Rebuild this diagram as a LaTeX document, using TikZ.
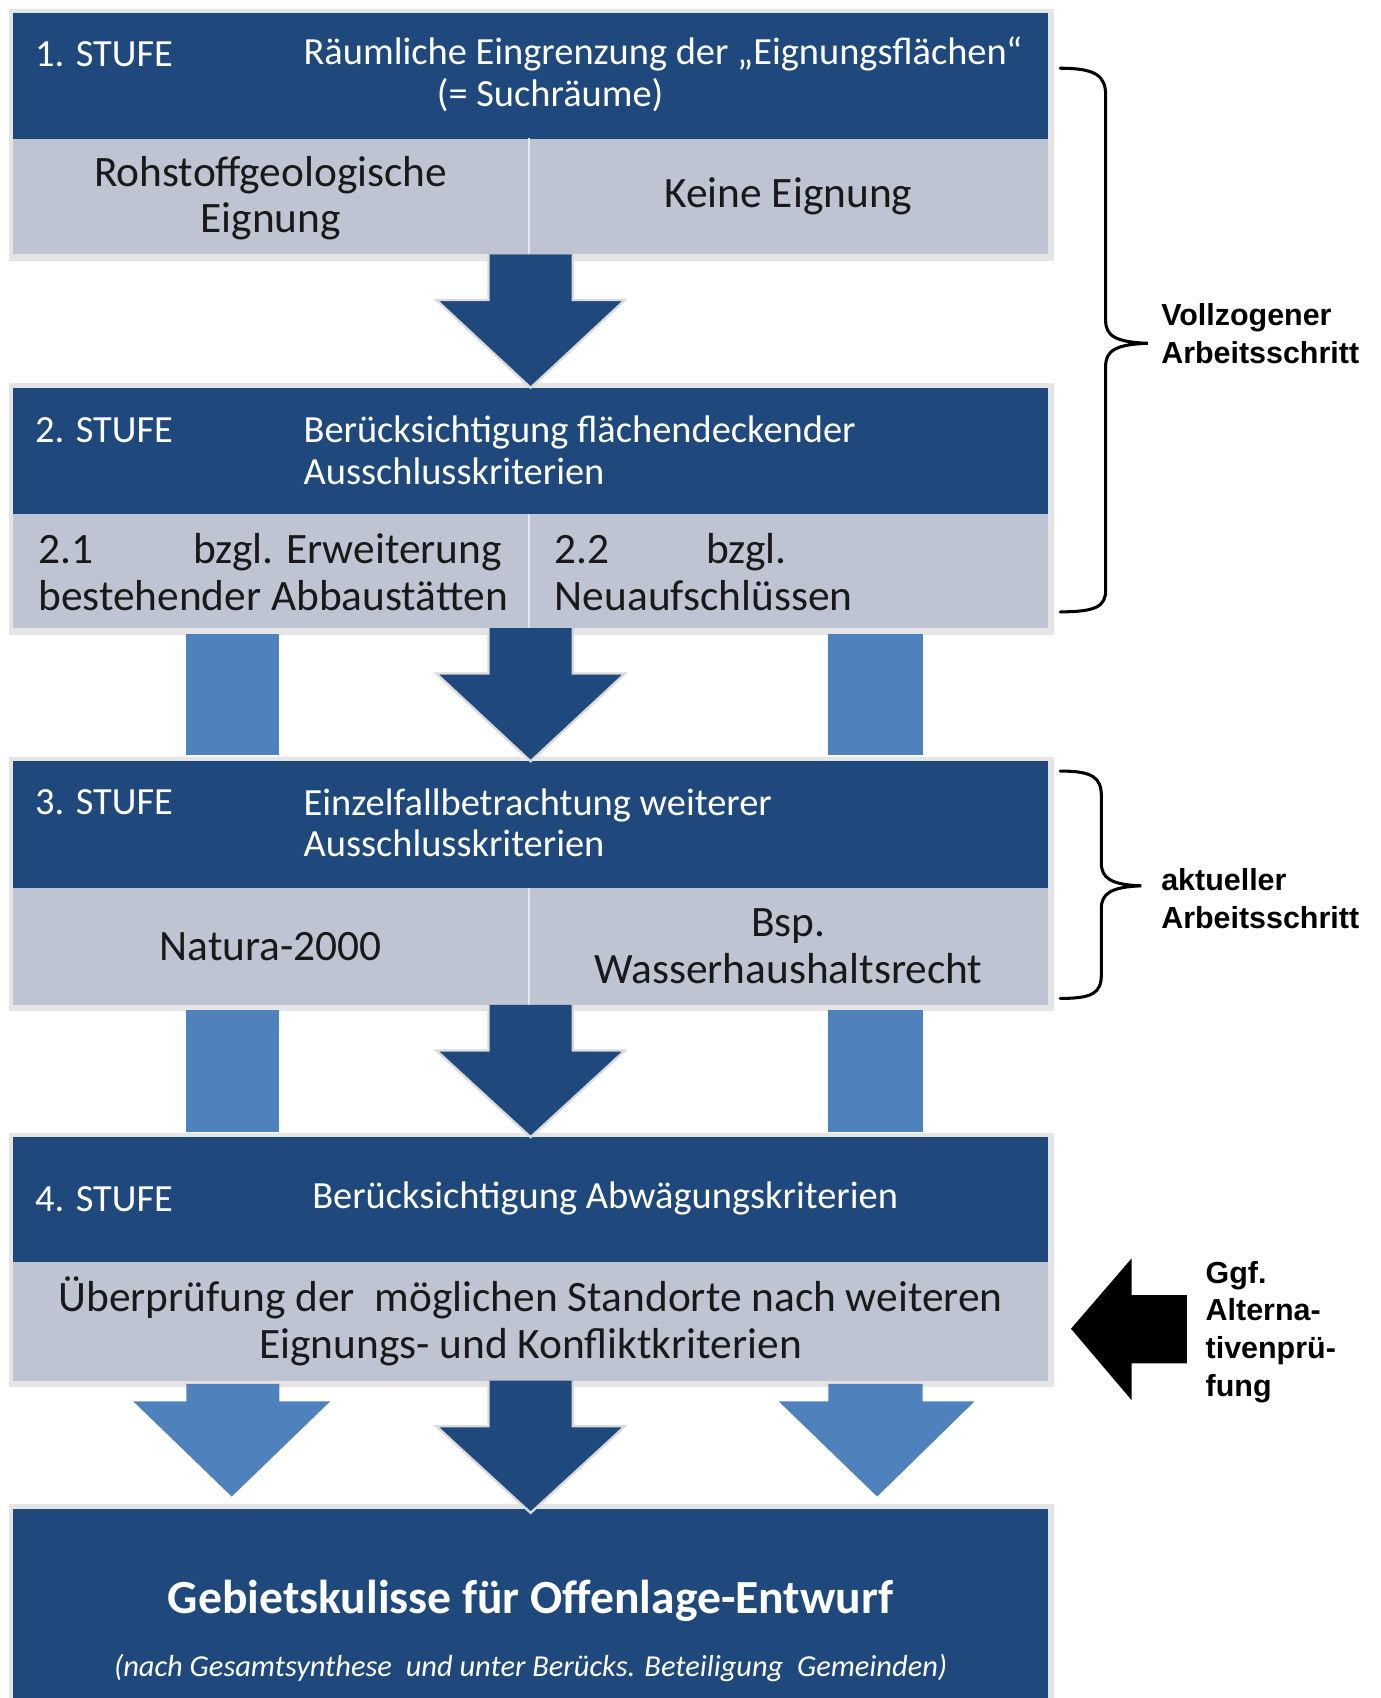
\documentclass[tikz,border=0pt]{standalone}
\usepackage{fontspec}
\setmainfont{Carlito}
\newfontfamily\sidefont{Liberation Sans}
\usetikzlibrary{fit}
\definecolor{stufeblue}{RGB}{31,73,125}
\definecolor{cellgrey}{RGB}{190,196,210}
\definecolor{lightblue}{RGB}{79,129,189}
\begin{document}
\begin{tikzpicture}[x=0.02cm, y=-0.02cm,
    head/.style={fill=stufeblue, inner sep=0pt},
    cell/.style={fill=cellgrey, inner sep=0pt},
    glow/.style={fill=black!10},
    headtext/.style={text=white, inner sep=0pt, font=\fontsize{20.2}{21.8}\selectfont},
    celltext/.style={text=black!90, inner sep=0pt, align=center, font=\fontsize{22.8}{24.6}\selectfont},
    sidetext/.style={anchor=west, inner sep=0pt, align=left, font=\sidefont\bfseries\fontsize{16}{19.9}\selectfont},
    darkarrow/.style={fill=stufeblue, draw=white!85!black, line width=1.2pt},
    lightarrow/.style={fill=lightblue},
    bracket/.style={line width=1.6pt, line cap=round}]
  \useasboundingbox (0,0) rectangle (1275,1568);
  % boxes of the first three stages
  \foreach \n/\t/\m/\b in {1/12/128/235, 2/358/475/580, 3/703/820/928} {
    \fill[glow] (8,\t-4) rectangle (973,\b+6);
    \node[head, fit={(12,\t) (968,\m)}] (h\n) {};
    \node[cell, fit={(12,\m) (488,\b)}] (l\n) {};
    \node[cell, fit={(488,\m) (968,\b)}] (r\n) {};
    \draw[white!60!cellgrey, line width=0.8pt] (l\n.north east) -- (l\n.south east);
  }
  \fill[glow] (8,1046) rectangle (973,1281);
  \node[head, fit={(12,1050) (968,1165)}] (h4) {};
  \node[cell, fit={(12,1165) (968,1275)}] (g4) {};
  \fill[glow] (8,1389) rectangle (973,1568);
  \node[head, fit={(12,1393) (968,1568)}] (fin) {};

  % header texts
  \node[headtext, anchor=west] (n1) at (32,50) {1. STUFE};
  \node[headtext, anchor=west] (t1) at (280,50) {Räumliche Eingrenzung der „Eignungsflächen“};
  \node[headtext] (t1b) at (508,88) {(= Suchräume)};
  \node[headtext, anchor=west] (n2) at (32,397) {2. STUFE};
  \node[headtext, anchor=west, align=left] (t2) at (280,416) {Berücksichtigung flächendeckender\\Ausschlusskriterien};
  \node[headtext, anchor=west] (n3) at (32,741) {3. STUFE};
  \node[headtext, anchor=west, align=left] (t3) at (280,760) {Einzelfallbetrachtung weiterer\\Ausschlusskriterien};
  \node[headtext, anchor=west] (n4) at (32,1107) {4. STUFE};
  \node[headtext, anchor=west] (t4) at (288,1107) {Berücksichtigung Abwägungskriterien};

  % cell texts
  \node[celltext] (c1l) at (250,183) {Rohstoffgeologische\\Eignung};
  \node[celltext] (c1r) at (r1) {Keine Eignung};
  \node[celltext, anchor=west, align=left] (c2l) at (35,528) {\makebox[2.86cm][l]{2.1}bzgl. Erweiterung\\bestehender Abbaustätten};
  \node[celltext, anchor=west, align=left] (c2r) at (512,528) {\makebox[2.8cm][l]{2.2}bzgl.\\Neuaufschlüssen};
  \node[celltext] (c3l) at (l3) {Natura-2000};
  \node[celltext] (c3r) at (r3) {Bsp.\\Wasserhaushaltsrecht};
  \node[celltext] (c4) at (g4) {Überprüfung der\ \ möglichen Standorte nach weiteren\\Eignungs- und Konfliktkriterien};
  \node[text=white, font=\bfseries\fontsize{25}{30}\selectfont] (f1) at (490,1478) {Gebietskulisse für Offenlage-Entwurf};
  \node[text=white, font=\itshape\fontsize{16}{19}\selectfont] (f2) at (490,1540) {(nach Gesamtsynthese\ \ und unter Berücks. Beteiligung\ \ Gemeinden)};

  % side bars between the stages
  \foreach \b in {585, 933} {
    \fill[lightblue] (172,\b) rectangle (258,\b+112);
    \fill[lightblue] (765,\b) rectangle (852,\b+112);
  }
  \fill[lightblue] (172,1278) -- (172,1294) -- (123,1294) -- (214,1382) -- (305,1294) -- (258,1294) -- (258,1278) -- cycle;
  \fill[lightblue] (765,1278) -- (765,1294) -- (719,1294) -- (810,1382) -- (900,1294) -- (852,1294) -- (852,1278) -- cycle;
  % middle arrows
  \foreach \b/\t in {235/358, 580/703, 928/1050, 1275/1397}
    \filldraw[darkarrow] (451,\b) -- (451,\b+42) -- (403,\b+42) -- (490,\t) -- (577,\b+42) -- (529,\b+42) -- (529,\b);

  % right-hand side
  \draw[bracket] (979,63) .. controls (1012,63) and (1021,70) .. (1021,88) -- (1021,296)
    .. controls (1021,310) and (1030,316) .. (1060,317) .. controls (1030,318) and (1021,324) .. (1021,338)
    -- (1021,545) .. controls (1021,560) and (1012,565) .. (979,565);
  \draw[bracket] (979,712) .. controls (1009,712) and (1017,718) .. (1017,735) -- (1017,797)
    .. controls (1017,811) and (1026,817) .. (1054,818) .. controls (1026,819) and (1017,825) .. (1017,839)
    -- (1017,900) .. controls (1017,917) and (1009,922) .. (979,922);
  \node[sidetext] (s1) at (1072,308) {Vollzogener\\Arbeitsschritt};
  \node[sidetext] (s2) at (1072,830) {aktueller\\Arbeitsschritt};
  \fill (989,1227) -- (1045,1162) -- (1045,1196) -- (1096,1196) -- (1096,1259) -- (1045,1259) -- (1045,1293) -- cycle;
  \node[sidetext] (s3) at (1113,1230) {Ggf.\\Alterna-\\tivenprü-\\fung};
\end{tikzpicture}
\end{document}
